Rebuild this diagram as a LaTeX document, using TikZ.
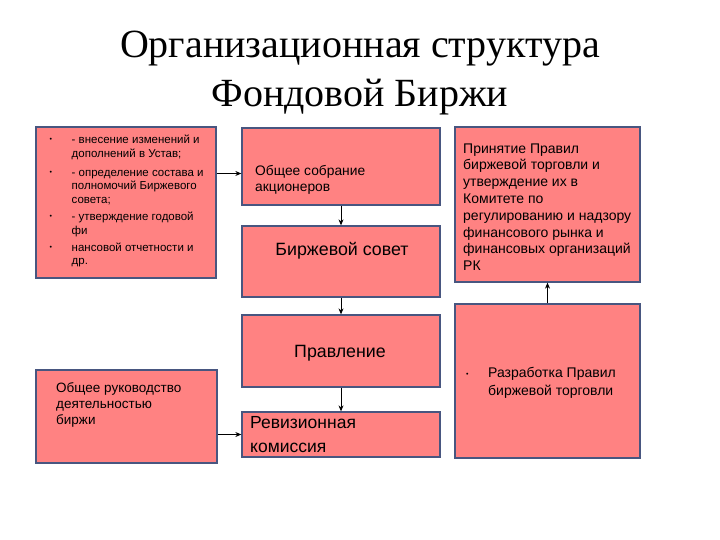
\documentclass[tikz,border=0pt]{standalone}
\usepackage{fontspec}
\setmainfont{Liberation Serif}
\setsansfont{Liberation Sans}
\usetikzlibrary{arrows.meta}

\definecolor{boxfill}{RGB}{255,130,130}
\definecolor{boxline}{RGB}{72,86,128}

\newcommand{\dotmark}{\raisebox{1.5pt}{\fontsize{7}{7}\selectfont\textbullet}}
\newcommand{\bline}[1]{\makebox[22pt][l]{\dotmark}#1}
\newcommand{\nline}[1]{\hspace*{22pt}#1}

\tikzset{
  box/.style={draw=boxline, fill=boxfill, line width=1.3pt, inner sep=0pt},
  txt/.style={font=\sffamily, align=left, inner sep=0pt},
  link/.style={-{Stealth[length=6pt,width=5pt]}, line width=0.9pt},
}

\begin{document}
\begin{tikzpicture}[x=1pt, y=-1pt]
\useasboundingbox (0,0) rectangle (720,540);

% title
\node [font=\fontsize{40}{49}\selectfont, align=center] (title) at (360,73)
  {Организационная структура\\Фондовой Биржи};

% boxes
\node [box, minimum width=180pt, minimum height=151pt] (rights)  at (126,202.5) {};
\node [box, minimum width=198pt, minimum height=77pt]  (meeting) at (341,166.5) {};
\node [box, minimum width=198pt, minimum height=71pt]  (council) at (341,261.5) {};
\node [box, minimum width=198pt, minimum height=72pt]  (board)   at (341,351) {};
\node [box, minimum width=198pt, minimum height=45pt]  (audit)   at (341,434.5) {};
\node [box, minimum width=181pt, minimum height=93pt]  (manage)  at (126.5,416.5) {};
\node [box, minimum width=185pt, minimum height=155pt] (adopt)   at (547.5,204.5) {};
\node [box, minimum width=185pt, minimum height=154pt] (draft)   at (547.5,381) {};

% texts
\node [txt, anchor=west, font=\sffamily\fontsize{11.5}{13.6}\selectfont] (rightsT) at (49.5,201)
  {\bline{- внесение изменений и}\\
   \nline{дополнений в Устав;}\\[5.5pt]
   \bline{- определение состава и}\\
   \nline{полномочий Биржевого}\\
   \nline{совета;}\\[3.5pt]
   \bline{- утверждение годовой}\\
   \nline{фи}\\[3.5pt]
   \bline{нансовой отчетности и}\\
   \nline{др.}};
\node [txt, anchor=west, font=\sffamily\fontsize{13.8}{15.5}\selectfont] (meetingT) at (255,180)
  {Общее собрание\\акционеров};
\node [txt, font=\sffamily\fontsize{17.8}{20}\selectfont] (councilT) at (342,251) {Биржевой совет};
\node [txt, font=\sffamily\fontsize{17.8}{20}\selectfont] (boardT) at (340,353) {Правление};
\node [txt, anchor=west, font=\sffamily\fontsize{17.5}{24}\selectfont] (auditT) at (250,435)
  {Ревизионная\\комиссия};
\node [txt, anchor=west, font=\sffamily\fontsize{13.5}{16}\selectfont] (manageT) at (56,405)
  {Общее руководство\\деятельностью\\биржи};
\node [txt, anchor=west, font=\sffamily\fontsize{14}{16.8}\selectfont] (adoptT) at (463,207)
  {Принятие Правил\\биржевой торговли и\\утверждение их в\\Комитете по\\регулированию и надзору\\финансового рынка и\\финансовых организаций\\РК};
\node [txt, anchor=west, font=\sffamily\fontsize{14}{17.5}\selectfont] (draftT) at (466,383)
  {\bline{Разработка Правил}\\\nline{биржевой торговли}};

% links
\draw [link] ([yshift=-7pt]rights.east |- meeting.west) -- ([yshift=-7pt]meeting.west);
\draw [link] (meeting) -- (council);
\draw [link] (council) -- (board);
\draw [link] (board) -- (audit);
\draw [link] (manage.east |- audit.west) -- (audit.west);
\draw [link] (draft) -- (adopt);

\end{tikzpicture}
\end{document}
